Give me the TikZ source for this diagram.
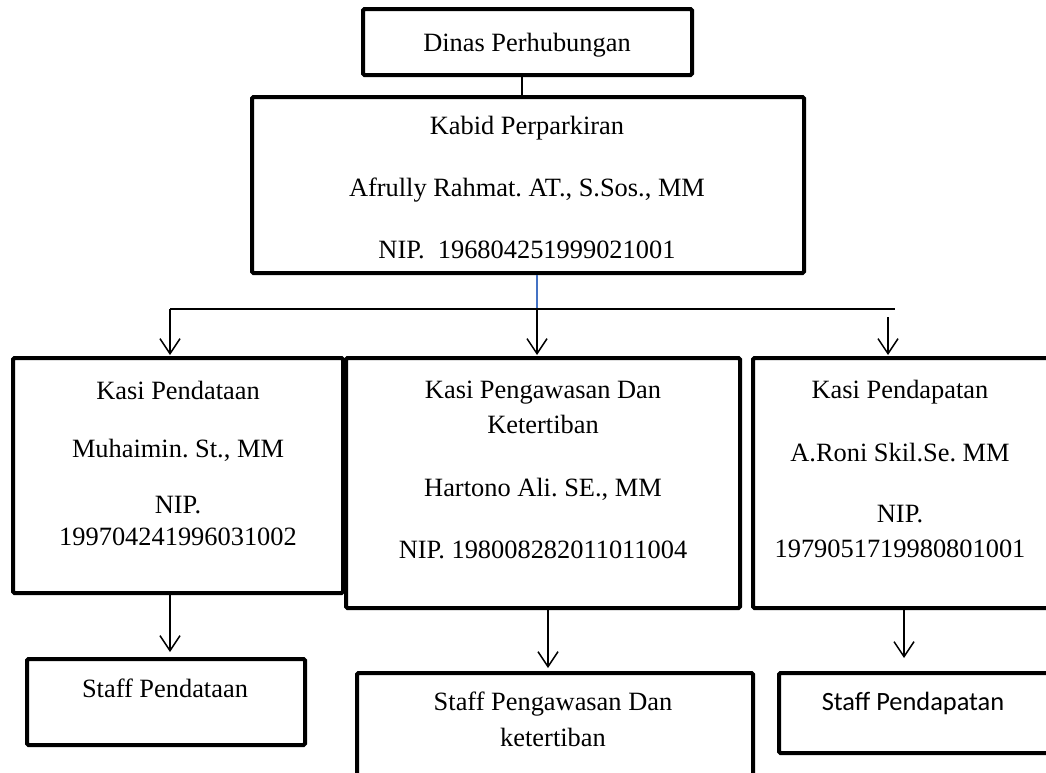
\documentclass[tikz,border=0pt]{standalone}
\usepackage{fontspec}
\setmainfont{Liberation Serif}
\newfontfamily\calibri{Carlito}
\usetikzlibrary{arrows.meta}
\definecolor{wordblue}{RGB}{68,114,196}
\frenchspacing
\begin{document}
\begin{tikzpicture}[x=1pt,y=-1pt,
  box/.style={draw=black,line width=4pt,rounded corners=1.5pt,rectangle,inner sep=0pt,fill=white},
  txt/.style={anchor=base,inner sep=0pt,font=\fontsize{26.4}{30}\selectfont},
  ctxt/.style={anchor=base,inner sep=0pt,font=\calibri\fontsize{26.4}{30}\selectfont},
  conn/.style={line width=1.5pt,draw=black},
  arr/.style={line width=1.5pt,draw=black,-{Straight Barb[length=15pt,width=20pt,line width=1.5pt]}}
]
\clip (0,0) rectangle (1046,772);
\fill[white] (0,0) rectangle (1046,772);

% boxes
\node[box,minimum width=329pt,minimum height=66pt] (dinas) at (527.5,42) {};
\node[box,minimum width=552pt,minimum height=176pt] (kabid) at (528,185) {};
\node[box,minimum width=330pt,minimum height=235pt] (kasi1) at (178,475.5) {};
\node[box,minimum width=394pt,minimum height=250pt] (kasi2) at (543,483) {};
\node[box,minimum width=310pt,minimum height=250pt] (kasi3) at (908,483) {};
\node[box,minimum width=278pt,minimum height=86pt] (staff1) at (166,702) {};
\node[box,minimum width=396pt,minimum height=110pt] (staff2) at (555,728) {};
\node[box,minimum width=284pt,minimum height=80pt] (staff3) at (921,713) {};

% texts
\node[txt] (tdinas) at (527,51) {Dinas Perhubungan};
\node[txt] (tk1) at (527,134) {Kabid Perparkiran};
\node[txt] (tk2) at (527,196) {Afrully Rahmat. AT., S.Sos., MM};
\node[txt] (tk3) at (527,258) {NIP.\ \ 196804251999021001};

\node[txt] (ta1) at (178,399) {Kasi Pendataan};
\node[txt] (ta2) at (178,457) {Muhaimin. St., MM};
\node[txt] (ta3) at (178,513) {NIP.};
\node[txt] (ta4) at (178,545) {199704241996031002};

\node[txt] (tb1) at (543,398) {Kasi Pengawasan Dan};
\node[txt] (tb2) at (543,433) {Ketertiban};
\node[txt] (tb3) at (543,496) {Hartono Ali. SE., MM};
\node[txt] (tb4) at (543,558) {NIP. 198008282011011004};

\node[txt] (tc1) at (900,398) {Kasi Pendapatan};
\node[txt] (tc2) at (900,461) {A.Roni Skil.Se. MM};
\node[txt] (tc3) at (900,522) {NIP.};
\node[txt] (tc4) at (900,557) {1979051719980801001};

\node[txt] (ts1) at (165,697) {Staff Pendataan};
\node[txt] (ts2a) at (553,710) {Staff Pengawasan Dan};
\node[txt] (ts2b) at (553,746) {ketertiban};
\node[ctxt] (ts3) at (913,710) {Staff Pendapatan};

% junctions
\coordinate (cdin) at (522,0);
\coordinate (cj) at (537,309);
\coordinate (hl) at (170,309);
\coordinate (hr) at (895,309);
\coordinate (r3) at (888,317);
\coordinate (c1) at (170,0);
\coordinate (c2) at (548,0);
\coordinate (c3) at (904,0);

% connectors
\draw[conn] (dinas.south -| cdin) -- (kabid.north -| cdin);
\draw[line width=1.5pt,draw=wordblue] (kabid.south -| cj) -- (cj);
\draw[conn] (hl) -- (hr);
\draw[arr] (hl) -- ([yshift=1pt]kasi1.north -| hl);
\draw[arr] (cj) -- ([yshift=1pt]kasi2.north -| cj);
\draw[arr] (r3) -- ([yshift=1pt]kasi3.north -| r3);
\draw[arr] (kasi1.south -| c1) -- ([yshift=5pt]staff1.north -| c1);
\draw[arr] (kasi2.south -| c2) -- ([yshift=3pt]staff2.north -| c2);
\draw[arr] (kasi3.south -| c3) -- ([yshift=13pt]staff3.north -| c3);
\end{tikzpicture}
\end{document}
